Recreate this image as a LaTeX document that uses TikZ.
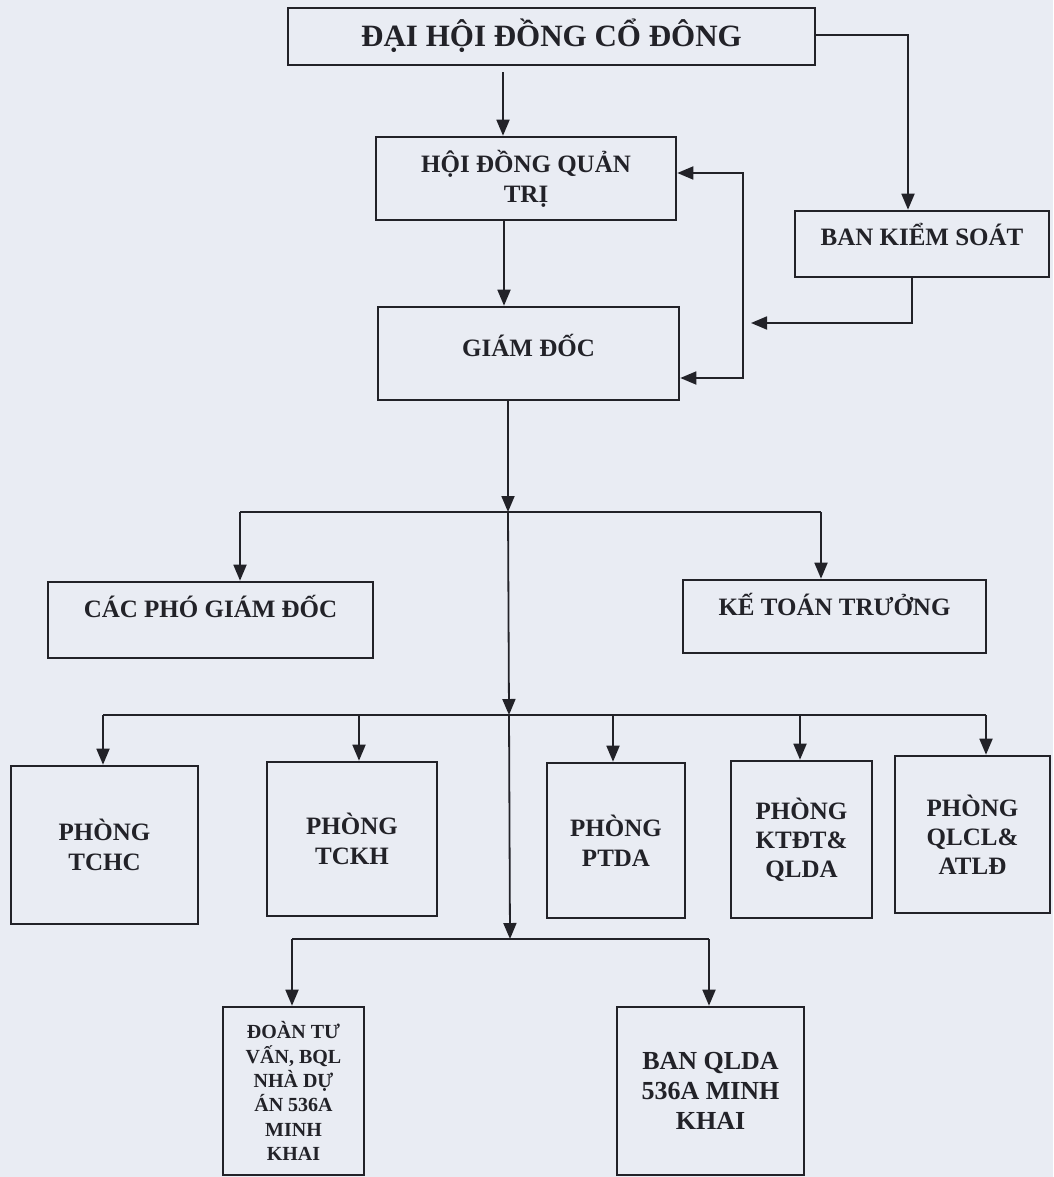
\documentclass[tikz,border=0pt]{standalone}
\usepackage{fontspec}
\setmainfont{Liberation Serif}
\usetikzlibrary{arrows.meta}
\definecolor{bg}{RGB}{233,236,243}
\definecolor{ink}{RGB}{34,34,40}
\begin{document}
\begin{tikzpicture}[x=1pt,y=-1pt,
  box/.style={draw=ink, line width=2.6pt, inner sep=2pt, align=center,
    font=\bfseries\fontsize{25}{30}\selectfont, text=ink},
  lift/.style={text height=16.5pt, text depth=#1},
  arr/.style={draw=ink, line width=1.8pt, -{Triangle[length=16pt,width=13pt]}},
  ln/.style={draw=ink, line width=1.8pt}]
\fill[bg] (0,0) rectangle (1053,1177);
\useasboundingbox (0,0) rectangle (1053,1177);

% boxes
\node[box, minimum width=527, minimum height=57,
  font=\bfseries\fontsize{31}{36}\selectfont, lift=0pt, text height=20.5pt] (dh) at (551.5,36.5) {ĐẠI HỘI ĐỒNG CỔ ĐÔNG};
\node[box, minimum width=300, minimum height=83] (hd) at (526,178.5) {HỘI ĐỒNG QUẢN\\TRỊ};
\node[box, minimum width=301, minimum height=93, lift=11pt] (gd) at (528.5,353.5) {GIÁM ĐỐC};
\node[box, minimum width=254, minimum height=66, lift=13pt] (bks) at (922,244) {BAN KIỂM SOÁT};
\node[box, minimum width=325, minimum height=76, lift=21pt] (cp) at (210.5,620) {CÁC PHÓ GIÁM ĐỐC};
\node[box, minimum width=303, minimum height=73, lift=19pt] (ktt) at (834.5,616.5) {KẾ TOÁN TRƯỞNG};

\node[box, minimum width=187, minimum height=158] (tchc) at (104.5,845) {PHÒNG\\TCHC};
\node[box, minimum width=170, minimum height=154] (tckh) at (352,839) {PHÒNG\\TCKH};
\node[box, minimum width=138, minimum height=155] (ptda) at (616,840.5) {PHÒNG\\PTDA};
\node[box, minimum width=141, minimum height=157, font=\bfseries\fontsize{25}{29}\selectfont] (ktdt) at (801.5,839.5) {PHÒNG\\KTĐT\&\\QLDA};
\node[box, minimum width=155, minimum height=157, font=\bfseries\fontsize{25}{29}\selectfont] (qlcl) at (972.5,834.5) {PHÒNG\\QLCL\&\\ATLĐ};

\node[box, minimum width=141, minimum height=168, font=\bfseries\fontsize{20}{24.3}\selectfont] (dtv) at (293.5,1091) {ĐOÀN TƯ\\VẤN, BQL\\NHÀ DỰ\\ÁN 536A\\MINH\\KHAI};
\node[box, minimum width=187, minimum height=168, font=\bfseries\fontsize{26}{30}\selectfont] (bql) at (710.5,1091) {BAN QLDA\\536A MINH\\KHAI};

% helper coordinates
\coordinate (xa) at (503,0);
\coordinate (xb) at (504,0);
\coordinate (k1) at (908,35);
\coordinate (k2) at (912,323);
\coordinate (fbm) at (751,323);
\coordinate (f1) at (743,173);
\coordinate (f2) at (743,378);
\coordinate (j1) at (508,512);
\coordinate (a1) at (240,512);
\coordinate (a2) at (821,512);
\coordinate (j2) at (509,715);
\coordinate (b1) at (103,715);
\coordinate (b2) at (359,715);
\coordinate (b3) at (613,715);
\coordinate (b4) at (800,715);
\coordinate (b5) at (986,715);
\coordinate (j3) at (510,939);
\coordinate (c1) at (292,939);
\coordinate (c2) at (709,939);

% connectors
\draw[arr, shorten <=6pt] (dh.south -| xa) -- (hd.north -| xa);
\draw[arr] (hd.south -| xb) -- (gd.north -| xb);
\draw[arr] (dh.east |- k1) -- (k1) -- (bks.north -| k1);
\draw[arr] (bks.south -| k2) -- (k2) -- (fbm);
\draw[ln, {Triangle[length=16pt,width=13pt]}-{Triangle[length=16pt,width=13pt]}] (hd.east |- f1) -- (f1) -- (f2) -- (gd.east |- f2);

\draw[arr] (gd.south -| j1) -- (j1);
\draw[ln] (a1) -- (a2);
\draw[arr] (a1) -- (cp.north -| a1);
\draw[arr] (a2) -- (ktt.north -| a2);

\draw[arr] (j1) -- (j2);
\draw[ln] (b1) -- (b5);
\draw[arr] (b1) -- (tchc.north -| b1);
\draw[arr] (b2) -- (tckh.north -| b2);
\draw[arr] (b3) -- (ptda.north -| b3);
\draw[arr] (b4) -- (ktdt.north -| b4);
\draw[arr] (b5) -- (qlcl.north -| b5);

\draw[arr] (j2) -- (j3);
\draw[ln] (c1) -- (c2);
\draw[arr] (c1) -- (dtv.north -| c1);
\draw[arr] (c2) -- (bql.north -| c2);
\end{tikzpicture}
\end{document}
